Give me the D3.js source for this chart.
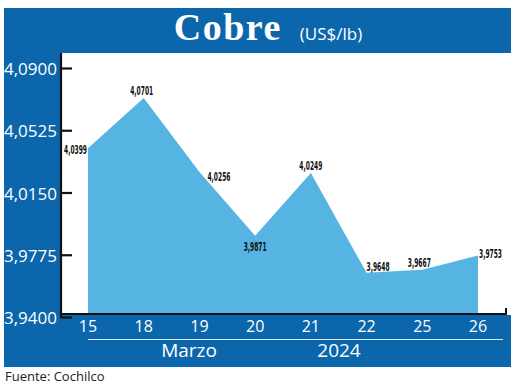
<!DOCTYPE html>
<html lang="es">
<head>
<meta charset="UTF-8">
<title>Cobre (US$/lb)</title>
<script src="https://d3js.org/d3.v7.min.js"></script>
<style>
    html, body { margin: 0; padding: 0; background: #fff; }
    svg { display: block; }
    .tick-y { font-family: "Open Sans", sans-serif; font-size: 17px; fill: #fff; }
    .tick-x { font-family: "Open Sans", sans-serif; font-size: 16px; fill: #fff; }
    .value-label { font-family: "Liberation Sans Narrow", "DejaVu Sans Condensed", sans-serif; font-weight: bold; font-size: 13px; fill: #111; }
</style>
</head>
<body>
<div id="chart"></div>
<script>
    // chart data
    const days = ["15", "18", "19", "20", "21", "22", "25", "26"];
    const prices = [4.0399, 4.0701, 4.0256, 3.9871, 4.0249, 3.9648, 3.9667, 3.9753];
    const yTicks = [3.94, 3.9775, 4.015, 4.0525, 4.09];
    const month = "Marzo";
    const year = "2024";

    // where each value label sits relative to its point
    const labelPlace = [
        { anchor: "end", dx: -1, dy: 6 },
        { anchor: "middle", dx: -2, dy: -3 },
        { anchor: "start", dx: 8, dy: 9 },
        { anchor: "middle", dx: 0, dy: 15 },
        { anchor: "middle", dx: 0, dy: -3 },
        { anchor: "start", dx: 0, dy: -2 },
        { anchor: "middle", dx: -3, dy: -3 },
        { anchor: "start", dx: 1, dy: 3 }
    ];

    const W = 520, H = 388;
    const blue = "#0b66ab", area = "#55b4e2";
    const fmt = v => d3.format(".4f")(v).replace(".", ",");

    const svg = d3.select("#chart").append("svg")
        .attr("width", W).attr("height", H);

    // blue frame: title bar, left panel, bottom band
    svg.append("rect").attr("x", 4).attr("y", 8).attr("width", 507).attr("height", 45).attr("fill", blue);
    svg.append("rect").attr("x", 4).attr("y", 52).attr("width", 57).attr("height", 315).attr("fill", blue);
    svg.append("rect").attr("x", 4).attr("y", 315).attr("width", 507).attr("height", 52).attr("fill", blue);

    // title
    const title = svg.append("text").attr("x", 268).attr("y", 40).attr("text-anchor", "middle").attr("fill", "#fff");
    title.append("tspan")
        .style("font-family", "'Liberation Serif', 'DejaVu Serif', serif")
        .style("font-weight", "bold").style("font-size", "38px")
        .style("letter-spacing", "1.5px")
        .text("Cobre");
    title.append("tspan")
        .attr("dx", 18)
        .style("font-family", "'Open Sans', sans-serif").style("font-size", "17px")
        .text("(US$/lb)");

    const x = d3.scalePoint().domain(days).range([88, 478]);
    const y = d3.scaleLinear().domain([3.94, 4.09]).range([314, 65]);

    // area
    const areaGen = d3.area()
        .x((d, i) => x(days[i]))
        .y0(y(3.94))
        .y1(d => y(d));
    svg.append("path").datum(prices).attr("d", areaGen).attr("fill", area);

    // y axis
    const yAxis = svg.append("g")
        .attr("transform", "translate(61,3)")
        .call(d3.axisRight(y).tickValues(yTicks).tickSize(11).tickFormat(""));
    yAxis.select(".domain").remove();
    yAxis.selectAll(".tick line").attr("stroke", "#111").attr("stroke-width", 2.2);
    svg.append("line").attr("x1", 61).attr("x2", 61).attr("y1", 53).attr("y2", 318)
        .attr("stroke", "#111").attr("stroke-width", 2.2);

    svg.append("g").selectAll("text").data(yTicks).join("text")
        .attr("class", "tick-y")
        .attr("x", 57)
        .attr("y", d => y(d) + 3 + 7)
        .attr("text-anchor", "end")
        .text(d => fmt(d));

    // x axis
    svg.append("line").attr("x1", 61).attr("x2", 506).attr("y1", y(3.94)).attr("y2", y(3.94))
        .attr("stroke", "#111").attr("stroke-width", 2);
    svg.append("line").attr("x1", 506).attr("x2", 506).attr("y1", y(3.94) + 1).attr("y2", y(3.94) - 6)
        .attr("stroke", "#111").attr("stroke-width", 2);

    svg.append("g").selectAll("text").data(days).join("text")
        .attr("class", "tick-x")
        .attr("x", d => x(d))
        .attr("y", 332)
        .attr("text-anchor", "middle")
        .text(d => d);

    svg.append("line").attr("x1", 88).attr("x2", 503).attr("y1", 339.5).attr("y2", 339.5)
        .attr("stroke", "#d8e8f4").attr("stroke-width", 1.2);

    svg.append("text").attr("class", "tick-x").style("font-size", "19px")
        .attr("x", 189).attr("y", 357).attr("text-anchor", "middle").text(month);
    svg.append("text").attr("class", "tick-x").style("font-size", "19px")
        .attr("x", 339).attr("y", 357).attr("text-anchor", "middle").text(year);

    // value labels
    svg.append("g").selectAll("text").data(prices).join("text")
        .attr("class", "value-label")
        .attr("x", (d, i) => x(days[i]) + labelPlace[i].dx)
        .attr("y", (d, i) => y(d) + labelPlace[i].dy)
        .attr("text-anchor", (d, i) => labelPlace[i].anchor)
        .attr("textLength", 23)
        .attr("lengthAdjust", "spacingAndGlyphs")
        .text(d => fmt(d));

    // source
    svg.append("text")
        .attr("x", 5).attr("y", 381)
        .style("font-family", "'Open Sans', sans-serif").style("font-size", "13px").attr("fill", "#222")
        .text("Fuente: Cochilco");
</script>
</body>
</html>
